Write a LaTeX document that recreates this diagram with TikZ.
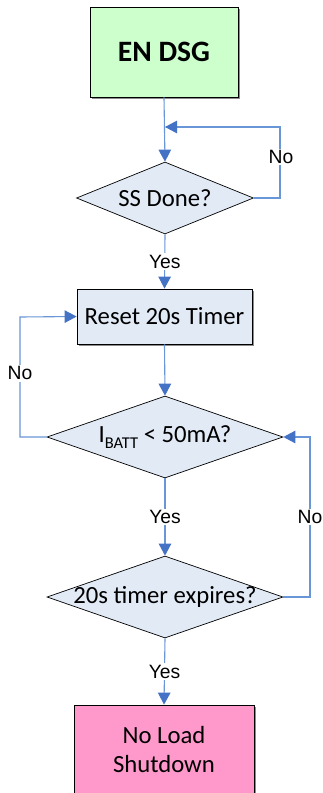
\documentclass[tikz,border=0pt]{standalone}
\usepackage{fontspec}
\setmainfont{Carlito}
\newfontfamily\lblfont{Liberation Sans}
\usetikzlibrary{shapes.geometric,arrows.meta,shadows}
\definecolor{lineblue}{RGB}{105,150,214}
\definecolor{tipblue}{RGB}{68,114,196}
\definecolor{greenfill}{RGB}{204,255,204}
\definecolor{bluefill}{RGB}{226,234,246}
\definecolor{pinkfill}{RGB}{255,153,204}
\newcommand{\mainfs}{\fontsize{24.7}{30}\selectfont}
\begin{document}
\begin{tikzpicture}[x=1pt,y=-1pt,
  box/.style={draw=black,line width=0.8pt,rectangle,inner sep=0pt,align=center,font=\mainfs,
    drop shadow={shadow xshift=1.5pt,shadow yshift=-1.5pt,fill=black,opacity=0.45}},
  dia/.style={draw=black,line width=0.7pt,diamond,inner sep=0pt,fill=bluefill},
  flow/.style={draw=lineblue,line width=1.1pt,-{Triangle[length=12pt,width=12.5pt,color=tipblue]}},
  lbl/.style={fill=white,inner sep=1.5pt,font=\lblfont\fontsize{19.3}{21}\selectfont}]
\useasboundingbox (0,0) rectangle (323,793);
\clip (0,0) rectangle (323,793);
\fill[white] (0,0) rectangle (323,793);
% nodes
\node[box,fill=greenfill,minimum width=148pt,minimum height=90pt,font=\fontsize{29.6}{32}\selectfont\bfseries] (en) at (164,52) {EN DSG};
\node[dia,minimum width=177pt,minimum height=72pt,label={[font=\mainfs]center:SS Done?}] (ss) at (165,198) {};
\node[box,fill=bluefill,minimum width=175pt,minimum height=55pt] (reset) at (164.5,316.5) {Reset 20s Timer};
\node[dia,minimum width=236pt,minimum height=82pt,label={[font=\mainfs]center:{I\raisebox{-0.22em}{\fontsize{16.5}{16.5}\selectfont BATT} < 50mA?}}] (ib) at (165,437) {};
\node[dia,minimum width=236pt,minimum height=82pt,label={[font=\mainfs]center:20s timer expires?}] (tm) at (165,597) {};
\node[box,fill=pinkfill,minimum width=180pt,minimum height=90pt] (nl) at (164,750) {No Load\\[-1pt]Shutdown};
% coordinates
\coordinate (j1) at (165,127);
\coordinate (r1) at (280,127);
\coordinate (l1) at (20,437);
\coordinate (l2) at (20,317);
\coordinate (r2) at (310,597);
\coordinate (r3) at (310,437);
% connectors
\draw[flow] (en.south) -- (ss.north);
\draw[flow] (ss.east) -| (r1) -- (j1);
\node[lbl] (no1) at (281,157) {No};
\draw[flow] (ss.south) -- node[lbl] (yes1) {Yes} (reset.north);
\draw[flow] (reset.south) -- (ib.north);
\draw[flow] (ib.west) -- (l1) -- node[lbl,pos=0.53] (no2) {No} (l2) -- (reset.west);
\draw[flow] (ib.south) -- node[lbl] (yes2) {Yes} (tm.north);
\draw[flow] (tm.east) -- (r2) -- node[lbl] (no3) {No} (r3) -- (ib.east);
\draw[flow] (tm.south) -- node[lbl] (yes3) {Yes} (nl.north);
\end{tikzpicture}
\end{document}
